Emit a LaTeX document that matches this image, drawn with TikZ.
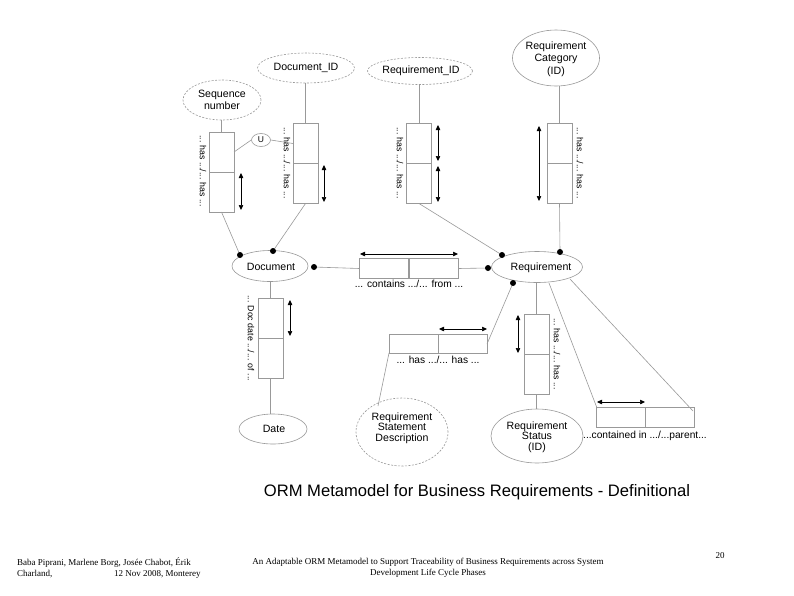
\documentclass[tikz,border=0pt]{standalone}
\usepackage{fontspec}
\setmainfont{Liberation Serif}
\setsansfont{Liberation Sans}
\usetikzlibrary{shapes.geometric,arrows.meta}
\definecolor{ln}{gray}{0.6}
\tikzset{
  ent/.style={ellipse,draw=ln,line width=0.6pt,inner sep=0pt},
  val/.style={ent,dashed,dash pattern=on 2pt off 1.5pt},
  etxt/.style={font=\sffamily\fontsize{10.6}{11.5}\selectfont,align=center,inner sep=0pt},
  rolev/.style={rectangle,draw=ln,line width=0.6pt,minimum width=25pt,minimum height=40pt,inner sep=0pt,outer sep=0pt},
  roleh/.style={rectangle,draw=ln,line width=0.6pt,minimum width=49pt,minimum height=19.5pt,inner sep=0pt,outer sep=0pt},
  conn/.style={draw=ln,line width=0.6pt},
  uarr/.style={draw=black,line width=0.5pt,{Triangle[length=5pt,width=4.5pt]}-{Triangle[length=5pt,width=4.5pt]}},
  rlab/.style={font=\sffamily\fontsize{8.8}{10}\selectfont,rotate=-90,inner sep=0pt},
  hlab/.style={font=\sffamily\fontsize{10.2}{11}\selectfont,inner sep=0pt},
  foot/.style={font=\fontsize{9}{10}\selectfont,inner sep=0pt}
}
\begin{document}
\begin{tikzpicture}[x=1pt,y=-1pt]
\useasboundingbox[fill=white] (0,0) rectangle (794,595);
% entities / values (shapes)
\node[val,minimum width=78pt,minimum height=40pt] (seq) at (222,100) {};
\node[val,minimum width=97pt,minimum height=30pt] (docid) at (306,68) {};
\node[val,minimum width=105pt,minimum height=27pt] (reqid) at (420,71) {};
\node[ent,minimum width=87pt,minimum height=56pt] (reqcat) at (556,58) {};
\node[ent,minimum width=76pt,minimum height=31pt] (document) at (270,266) {};
\node[ent,minimum width=91pt,minimum height=31pt] (requirement) at (537,267) {};
\node[ent,minimum width=68pt,minimum height=30pt] (date) at (273,429) {};
\node[val,minimum width=92pt,minimum height=68pt] (rsd) at (402,432) {};
\node[ent,minimum width=92pt,minimum height=54pt] (status) at (537,436) {};
\node[ent,minimum width=19pt,minimum height=13pt] (U) at (261,140) {};
% entity texts
\node[etxt] (seqt) at (222,100) {Sequence\\number};
\node[etxt] (docidt) at (306,68) {Document\_ID};
\node[etxt] (reqidt) at (421,71) {Requirement\_ID};
\node[etxt,font=\sffamily\fontsize{10.6}{12.5}\selectfont] (reqcatt) at (556,59) {Requirement\\Category\\(ID)};
\node[etxt] (documentt) at (271,267) {Document};
\node[etxt] (requirementt) at (541,268) {Requirement};
\node[etxt] (datet) at (274,429) {Date};
\node[etxt,font=\sffamily\fontsize{10.6}{10.5}\selectfont] (rsdt) at (402,428) {Requirement\\Statement\\Description};
\node[etxt,font=\sffamily\fontsize{10.6}{10.5}\selectfont] (statust) at (537,437) {Requirement\\Status\\(ID)};
\node[etxt,font=\sffamily\fontsize{8.5}{9}\selectfont] (Ut) at (261,140) {U};
% role boxes
\node[rolev] (seqA) at (221.5,152) {};
\node[rolev] (seqB) at (221.5,192) {};
\node[rolev] (docidA) at (305.5,143.5) {};
\node[rolev] (docidB) at (305.5,183.5) {};
\node[rolev] (reqidA) at (419,143.5) {};
\node[rolev] (reqidB) at (419,183.5) {};
\node[rolev] (reqcatA) at (559.5,143.5) {};
\node[rolev] (reqcatB) at (559.5,183.5) {};
\node[rolev] (ddA) at (270.5,318) {};
\node[rolev] (ddB) at (270.5,358) {};
\node[rolev] (stA) at (536.5,334) {};
\node[rolev] (stB) at (536.5,374) {};
\node[roleh] (contL) at (384,268.5) {};
\node[roleh] (contR) at (433.5,268.5) {};
\node[roleh] (hasL) at (413.5,344) {};
\node[roleh] (hasR) at (462.5,344) {};
\node[roleh] (cdL) at (621,417.5) {};
\node[roleh] (cdR) at (670,417.5) {};
% dot coordinates
\coordinate (d1) at (240,255);
\coordinate (d2) at (273,251);
\coordinate (d3) at (314,267);
\coordinate (r1) at (502,255);
\coordinate (r2) at (560,252);
\coordinate (r3) at (488,268);
\coordinate (r4) at (513,283);
\coordinate (r5) at (549,283);
\coordinate (r6) at (570,279);
\coordinate (cdtl) at (597,408);
\coordinate (cdtr) at (693,411);
\coordinate (hastl) at (389,353);
\coordinate (rsdtop) at (378,406);
% connectors
\draw[conn] (seq.south -| seqA.north) -- (seqA.north);
\draw[conn] (seqA.east) -- (U.west);
\draw[conn] (U.east) -- (docidA.west);
\draw[conn] (docid.south -| docidA.north) -- (docidA.north);
\draw[conn] (seqB.south) -- (d1);
\draw[conn] (docidB.south) -- (d2);
\draw[conn] (reqid.south -| reqidA.north) -- (reqidA.north);
\draw[conn] (reqidB.south) -- (r1);
\draw[conn] (reqcat.south -| reqcatA.north) -- (reqcatA.north);
\draw[conn] (reqcatB.south) -- (r2);
\draw[conn] (d3) -- (contL.west);
\draw[conn] (contR.east) -- (r3);
\draw[conn] (document.south -| ddA.north) -- (ddA.north);
\draw[conn] (ddB.south) -- (date.north -| ddB.south);
\draw[conn] (r4) -- (hasR.east);
\draw[conn] (hastl) -- (rsdtop);
\draw[conn] (requirement.south -| stA.north) -- (stA.north);
\draw[conn] (stB.south) -- (status.north -| stB.south);
\draw[conn] (r5) -- (cdtl);
\draw[conn] (r6) -- (cdtr);
% dots
\foreach \p in {d1,d2,d3,r1,r2,r3,r4} \fill[black] (\p) circle (3pt);
% uniqueness arrows
\coordinate (a1s) at (241,173); \coordinate (a1e) at (241,210);
\draw[uarr] (a1s) -- (a1e);
\coordinate (a2s) at (324,165); \coordinate (a2e) at (324,202);
\draw[uarr] (a2s) -- (a2e);
\coordinate (a3s) at (438,125); \coordinate (a3e) at (438,161);
\draw[uarr] (a3s) -- (a3e);
\coordinate (a4s) at (438,166); \coordinate (a4e) at (438,202);
\draw[uarr] (a4s) -- (a4e);
\coordinate (a5s) at (539,126); \coordinate (a5e) at (539,201);
\draw[uarr] (a5s) -- (a5e);
\coordinate (a6s) at (360,254); \coordinate (a6e) at (458,254);
\draw[uarr] (a6s) -- (a6e);
\coordinate (a7s) at (290,300); \coordinate (a7e) at (290,336);
\draw[uarr] (a7s) -- (a7e);
\coordinate (a8s) at (439,329); \coordinate (a8e) at (487,329);
\draw[uarr] (a8s) -- (a8e);
\coordinate (a9s) at (518,315); \coordinate (a9e) at (518,353);
\draw[uarr] (a9s) -- (a9e);
\coordinate (a10s) at (597,402); \coordinate (a10e) at (645,402);
\draw[uarr] (a10s) -- (a10e);
% role labels
\node[rlab] (l1) at (203,171) {... has .../... has ...};
\node[rlab] (l2) at (287,163) {... has .../... has ...};
\node[rlab] (l3) at (400,163) {... has .../... has ...};
\node[rlab] (l4) at (580,163) {... has .../... has ...};
\node[rlab] (l5) at (251,338) {... Doc date .../... of ...};
\node[rlab] (l6) at (557,354) {... has .../... has ...};
\node[hlab] (l7) at (409,284) {... contains .../... from ...};
\node[hlab] (l8) at (438,360) {... has .../... has ...};
\node[hlab] (l9) at (645,436) {...contained in .../...parent...};
% title
\node[font=\sffamily\fontsize{16.6}{18}\selectfont,inner sep=0pt] (title) at (477,492) {ORM Metamodel for Business Requirements - Definitional};
% footer
\node[foot,anchor=west] (f1) at (17,563) {Baba Piprani, Marlene Borg, Josée Chabot, Érik};
\node[foot,anchor=west] (f1b) at (17,574) {Charland,};
\node[foot,anchor=west] (f1c) at (114,574) {12 Nov 2008, Monterey};
\node[foot] (f2) at (428,562) {An Adaptable ORM Metamodel to Support Traceability of Business Requirements across System};
\node[foot] (f2b) at (428,573) {Development Life Cycle Phases};
\node[foot] (f3) at (720,556) {20};
\end{tikzpicture}
\end{document}
